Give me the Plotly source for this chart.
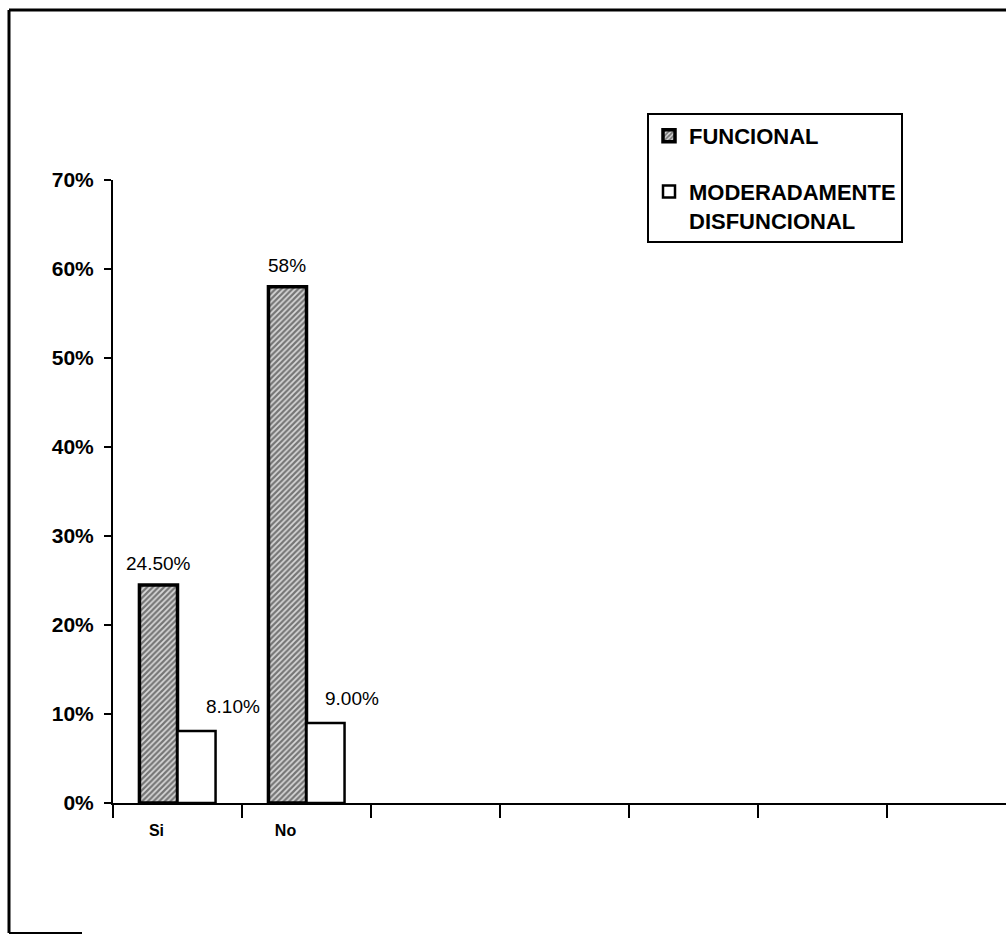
import plotly.graph_objects as go

# ---- data ----
categories = ["Si", "No", " ", "  ", "   ", "    ", "     "]
series_names = ["FUNCIONAL", "MODERADAMENTE<br>DISFUNCIONAL"]
funcional = [0.245, 0.58]
moderada = [0.081, 0.09]
funcional_labels = ["24.50%", "58%"]
moderada_labels = ["8.10%", "9.00%"]
y_ticks = [0, 0.1, 0.2, 0.3, 0.4, 0.5, 0.6, 0.7]
y_tick_labels = ["0%", "10%", "20%", "30%", "40%", "50%", "60%", "70%"]

W, H = 1006, 935
L, R, T, B = 113, 0, 180, 132
pw, ph = W - L - R, H - T - B

def px(x):
    return (x - L) / pw

def py(y):
    return (H - B - y) / ph

FONT = "Liberation Sans, Arial, sans-serif"

fig = go.Figure()
fig.add_trace(go.Bar(
    x=categories[:2], y=funcional, name=series_names[0], legendgroup="a",
    marker=dict(color="white",
                pattern=dict(shape="/", fgcolor="#111111", bgcolor="#d8d8d8", size=4, solidity=0.55),
                line=dict(color="black", width=3.5)),
))
fig.add_trace(go.Bar(
    x=categories[:2], y=moderada, name=series_names[1], legendgroup="b",
    marker=dict(color="white", line=dict(color="black", width=2.5)),
))

bargap = 0.41
off = (1 - bargap) / 4  # center offset of each bar in a 2-bar group

label_shift_f = [0, 0]
label_shift_m = [36, 26]
annotations = []
for i, (v, t) in enumerate(zip(funcional, funcional_labels)):
    annotations.append(dict(x=i - off, y=v, text=t, showarrow=False, xref="x", yref="y",
                            yanchor="bottom", yshift=9, xshift=label_shift_f[i],
                            font=dict(family=FONT, size=19, color="black")))
for i, (v, t) in enumerate(zip(moderada, moderada_labels)):
    annotations.append(dict(x=i + off, y=v, text=t, showarrow=False, xref="x", yref="y",
                            yanchor="bottom", yshift=12, xshift=label_shift_m[i],
                            font=dict(family=FONT, size=19, color="black")))

frame = dict(type="line", xref="paper", yref="paper", line=dict(color="black", width=3))
shapes = [
    dict(frame, x0=px(9), x1=px(9), y0=py(10), y1=py(933)),
    dict(frame, x0=px(9), x1=px(W), y0=py(10), y1=py(10)),
    dict(frame, x0=px(9), x1=px(82), y0=py(933), y1=py(933), line=dict(color="black", width=2)),
]

fig.update_layout(
    width=W, height=H,
    margin=dict(l=L, r=R, t=T, b=B),
    paper_bgcolor="white", plot_bgcolor="white",
    barmode="group", bargap=bargap, bargroupgap=0,
    showlegend=True,
    legend=dict(x=px(647), y=py(113), xanchor="left", yanchor="top",
                bordercolor="black", borderwidth=2, bgcolor="white",
                font=dict(family=FONT, size=22, color="black", weight="bold"),
                tracegroupgap=24, valign="top", traceorder="grouped"),
    annotations=annotations,
    shapes=shapes,
    xaxis=dict(type="category", categoryorder="array", categoryarray=categories,
               range=[-0.5, -0.5 + pw / 129.0], tickson="boundaries",
               ticks="outside", ticklen=13, tickwidth=2, tickcolor="black",
               showline=True, linecolor="black", linewidth=2, showgrid=False,
               ticklabelshift=-21, ticklabelstandoff=12,
               tickfont=dict(family=FONT, size=16, color="black", weight="bold")),
    yaxis=dict(range=[0, 0.7], tickvals=y_ticks, ticktext=y_tick_labels,
               ticks="outside", ticklen=7, tickwidth=2, tickcolor="black",
               showline=True, linecolor="black", linewidth=2, showgrid=False, zeroline=False,
               ticklabelstandoff=6,
               tickfont=dict(family=FONT, size=21, color="black", weight="bold")),
)

fig.write_html("out.html")
